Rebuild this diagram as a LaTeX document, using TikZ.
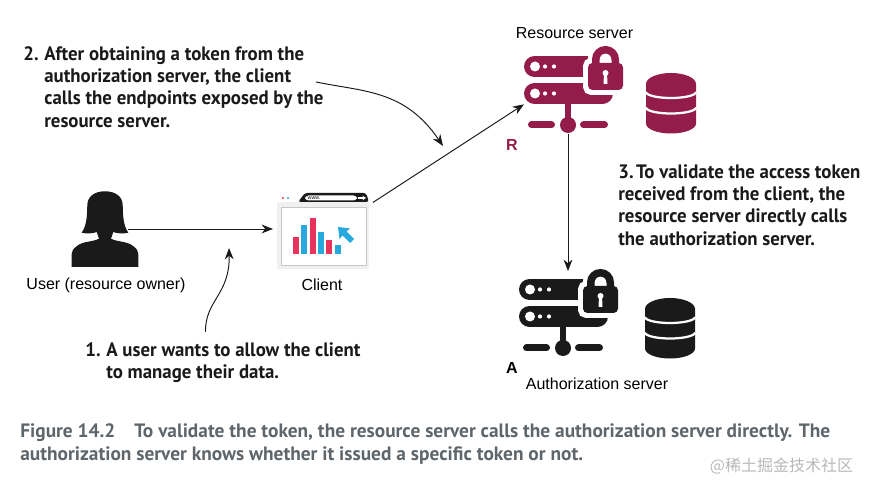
\documentclass[tikz,border=0pt]{standalone}
\usepackage{fontspec}
\setmainfont{Liberation Sans}
\newfontfamily\notefont[FakeStretch=0.97]{PT Sans}
\newfontfamily\captionfont{PT Sans}
\newfontfamily\cjkfont{Noto Sans CJK SC}
\usetikzlibrary{arrows.meta}
\definecolor{srvcrimson}{HTML}{941C4A}
\definecolor{srvblack}{HTML}{1A1A1A}
\definecolor{barred}{HTML}{E8335C}
\definecolor{barblue}{HTML}{28A8DC}
\definecolor{captiongrey}{HTML}{5E666B}
\newcommand{\notenum}[1]{\llap{\makebox[.42cm][l]{#1}}}
\tikzset{
  iconbox/.style={inner sep=0pt, outer sep=0pt},
  iconlabel/.style={inner sep=0pt, font=\fontsize{9.1}{11}\selectfont},
  noteline/.style={inner sep=0pt, anchor=north west, align=left, text=srvblack,
    font=\notefont\bfseries\fontsize{11.05}{12.7}\selectfont},
  captionline/.style={inner sep=0pt, anchor=west, text=captiongrey,
    font=\captionfont\bfseries\fontsize{11.02}{12}\selectfont},
  flow/.style={-{Stealth[length=6.5pt, width=5pt]}, draw=srvblack, line width=0.55pt},
  % server rack with a padlock in front, 1 unit = one pixel of the layout
  pics/lockserver/.style={code={
    \begin{scope}[scale=.02]
      \draw[#1, line width=.42cm, line cap=round] (-33.5,58.5) -- (25,58.5);
      \draw[#1, line width=.42cm, line cap=round] (-33.5,31.5) -- (34.5,31.5);
      \draw[#1, line width=.12cm] (0,0) -- (0,25);
      \fill[#1] (0,0) circle (8);
      \draw[#1, line width=.14cm, line cap=round] (-36.5,0) -- (-16.5,0);
      \draw[#1, line width=.14cm, line cap=round] (15.5,0) -- (36.5,0);
      \foreach \y in {58.5,31.5} {
        \fill[white] (-33,\y) circle (5);
        \fill[white] (-23,\y) circle (2.1);
        \fill[white] (-14,\y) circle (2.1);
      }
      % padlock, white halo first
      \draw[white, line width=.2cm, rounded corners=2pt] (20,35) rectangle (55,62);
      \fill[white] (20,35) rectangle (55,62);
      \draw[white, line width=.32cm] (27.75,60) -- (27.75,65.5) arc[start angle=180, end angle=0, radius=9.75] -- (47.25,60);
      \draw[#1, line width=.15cm] (27.75,60) -- (27.75,65.5) arc[start angle=180, end angle=0, radius=9.75] -- (47.25,60);
      \fill[#1, rounded corners=2.5pt] (20,35) rectangle (55,62);
      \fill[white] (37.5,52) circle (3);
      \fill[white] (36,52) -- (35.5,41) -- (39.5,41) -- (39,52) -- cycle;
    \end{scope}
  }},
  pics/datastack/.style={code={
    \begin{scope}[scale=.02]
      \fill[#1] (-25,19.5) arc[start angle=180, end angle=0, x radius=25, y radius=11]
        -- (25,-20) arc[start angle=360, end angle=180, x radius=25, y radius=10] -- cycle;
      \draw[white, line width=.045cm] (-25,11.5) arc[start angle=180, end angle=360, x radius=25, y radius=6];
      \draw[white, line width=.045cm] (-25,-4) arc[start angle=180, end angle=360, x radius=25, y radius=6];
    \end{scope}
  }},
  pics/userfigure/.style={code={
    \begin{scope}[scale=.02]
      \foreach \side in {1,-1} {
        \fill[srvblack, xscale=\side] (0,0) -- (33.3,0) -- (33.3,13)
          .. controls (33.3,16) and (32,18) .. (28,21)
          .. controls (22,26) and (12,25) .. (6,28.3)
          -- (8.3,35) .. controls (12,33.5) and (18,33) .. (23.3,34.3)
          .. controls (18,42) and (18,52) .. (17.7,61.7)
          .. controls (17.7,70) and (11,75.7) .. (0,75.7) -- cycle;
      }
    \end{scope}
  }},
  pics/browser/.style={code={
    \begin{scope}[scale=.02]
      % window frame
      \fill[black!6] (-46,-38) rectangle (46,29);
      \fill[white] (-42,-34) rectangle (43,24);
      \draw[black!22, line width=.2pt] (-42,-34) rectangle (43,24);
      \fill[barred] (-40,33) circle (1.1);
      \fill[barblue] (-35,33) circle (1.1);
      % tab with address field
      \fill[srvblack, rounded corners=1.5pt] (-25,29) -- (-18,38) -- (43,38) -- (46,29) -- cycle;
      \fill[white, rounded corners=2pt] (-18,30.5) rectangle (34,35.5);
      \node[iconbox, font=\fontsize{3}{3}\selectfont] (urltext) at (-9,33) {www.};
      \draw[white, line width=.6pt, -{Stealth[length=2pt, width=2.5pt]}] (35,33) -- (43,33);
      % bar chart
      \foreach \x/\top/\col in {-30/-6/barred, -22/6/barblue, -13/13/barred,
          -5/-1/barblue, 3/-9/barred, 12/-14/barblue}
        \fill[\col] (\x,-23) rectangle (\x+6,\top+0);
      % pointer
      \fill[barblue] (15,4) -- (27,2.5) -- (23.5,-0.5) -- (31,-8) -- (27,-12)
        -- (19.5,-4.5) -- (16.5,-8) -- cycle;
    \end{scope}
  }}
}

\begin{document}
\begin{tikzpicture}
  \useasboundingbox (0,0) rectangle (17.38,9.82);

  % Icon boxes that carry the connectors
  \node[iconbox, minimum width=.92cm, minimum height=1.52cm] (user) at (2.10,5.24) {};
  \node[iconbox, minimum width=2cm, minimum height=1.6cm] (client) at (6.46,5.24) {};
  \node[iconbox, minimum width=1.76cm, minimum height=1.76cm] (resource) at (11.36,8.02) {};
  \node[iconbox, minimum width=1.96cm, minimum height=1.72cm] (authserver) at (11.36,3.54) {};

  % Icons
  \pic at (2.10,4.48) {userfigure};
  \pic at (6.46,5.20) {browser};
  \pic at (11.36,7.32) {lockserver=srvcrimson};
  \pic at (13.42,7.75) {datastack=srvcrimson};
  \pic at (11.26,2.86) {lockserver=srvblack};
  \pic at (13.40,3.25) {datastack=srvblack};

  % Icon labels
  \node[iconlabel] (userlabel) at (2.12,4.12) {User (resource owner)};
  \node[iconlabel] (clientlabel) at (6.44,4.12) {Client};
  \node[iconlabel] (resourcelabel) at (11.49,9.16) {Resource server};
  \node[iconlabel] (authlabel) at (11.94,2.14) {Authorization server};
  \node[iconlabel, text=srvcrimson, font=\fontsize{9.1}{11}\selectfont\bfseries] (resmark) at (10.24,6.92) {R};
  \node[iconlabel, font=\fontsize{9.1}{11}\selectfont\bfseries] (authmark) at (10.24,2.46) {A};

  % Numbered notes
  \node[noteline] (notetwo) at (0.88,8.90) {\notenum{2.}After obtaining a token from the\\
    authorization server, the client\\
    calls the endpoints exposed by the\\
    resource server.};
  \node[noteline] (notethree) at (12.36,6.54) {3.\hspace{.05cm}To validate the access token\\
    received from the client, the\\
    resource server directly calls\\
    the authorization server.};
  \node[noteline] (noteone) at (2.12,2.98) {\notenum{1.}A user wants to allow the client\\
    to manage their data.};

  % Free ends of the curved leaders
  \coordinate (leadtwostart) at (6.32,8.18);
  \coordinate (leadtwotip) at (8.86,6.90);
  \coordinate (leadonestart) at (4.11,3.18);
  \coordinate (leadonetip) at (4.58,4.86);

  % Connectors
  \draw[flow] (user.east) -- (client.west);
  \draw[flow] (client.28) -- (resource.198);
  \draw[flow] (resource.south) -- (authserver.north);
  \draw[flow] (leadtwostart) .. controls (7.30,7.98) and (8.10,8.02) .. (leadtwotip);
  \draw[flow] (leadonestart) .. controls (4.10,3.82) and (4.60,3.92) .. (leadonetip);

  % Caption
  \node[captionline] (captionone) at (0.40,1.16) {Figure 14.2\hspace{.38cm}To validate the token, the resource server calls the authorization server directly. The};
  \node[captionline] (captiontwo) at (0.40,0.70) {authorization server knows whether it issued a specific token or not.};
  \node[inner sep=0pt, text=black!28, font=\cjkfont\fontsize{9.1}{11}\selectfont] (sitemark) at (15.63,0.50) {@稀土掘金技术社区};
\end{tikzpicture}
\end{document}
